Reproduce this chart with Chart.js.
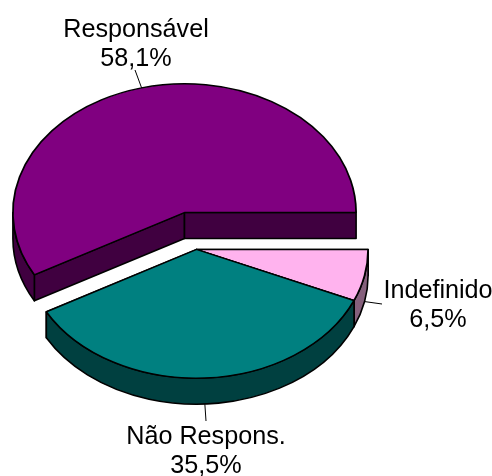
<!DOCTYPE html>
<html>
<head>
<meta charset="utf-8">
<style>
  html, body { margin: 0; padding: 0; background: #fff; }
  canvas { display: block; }
</style>
<script src="https://cdn.jsdelivr.net/npm/chart.js@4/dist/chart.umd.min.js"></script>
</head>
<body>
<canvas id="pie" width="492" height="476"></canvas>
<script>
// Shares drawn clockwise starting from three o'clock
const categories = ['Indefinido', 'Não Respons.', 'Responsável'];
const shares = [6.5, 35.5, 58.1];
const shareLabels = ['6,5%', '35,5%', '58,1%'];
const topColors = ['#FFB3EE', '#008080', '#800080'];
const wallColors = ['#85607C', '#004040', '#400040'];
const pulledOut = [true, true, false];

// Perspective settings for the tilted pie
const tilt = 0.75;
const depth = 26;
const pullX = 12, pullY = 37;
const fontPx = 25.2;
const lineGap = 29;

// Where each label sits: centre x, first baseline, end of the leader line
const labelSpots = [
  { x: 438, y: 298, endX: 382, endY: 304 },
  { x: 206, y: 444, endX: 206, endY: 421 },
  { x: 136, y: 37, endX: 135, endY: 70 }
];

const tiltedPie = {
  id: 'tiltedPie',
  beforeDatasetsDraw(chart) {
    const ctx = chart.ctx;
    const arcs = chart.getDatasetMeta(0).data;
    // Back slice first, then the pulled-out slices in front of it
    [2, 0, 1].forEach(i => {
      const arc = arcs[i];
      const dx = pulledOut[i] ? pullX : 0;
      const dy = pulledOut[i] ? pullY : 0;
      const cx = arc.x + dx, cy = arc.y + dy;
      const rx = arc.outerRadius, ry = rx * tilt;
      const a0 = arc.startAngle, a1 = arc.endAngle;
      const rim = a => [cx + rx * Math.cos(a), cy + ry * Math.sin(a)];

      ctx.save();
      ctx.fillStyle = wallColors[i];
      ctx.strokeStyle = '#000';
      ctx.lineWidth = 1.6;
      ctx.lineJoin = 'round';

      // Cut faces along both straight edges of the slice
      [a0, a1].forEach(a => {
        const [px, py] = rim(a);
        ctx.beginPath();
        ctx.moveTo(cx, cy);
        ctx.lineTo(px, py);
        ctx.lineTo(px, py + depth);
        ctx.lineTo(cx, cy + depth);
        ctx.closePath();
        ctx.fill();
        ctx.stroke();
      });

      // Outer wall, only on the near half of the ellipse
      const from = Math.max(a0, 0), to = Math.min(a1, Math.PI);
      if (to > from) {
        ctx.beginPath();
        ctx.ellipse(cx, cy, rx, ry, 0, from, to);
        ctx.ellipse(cx, cy + depth, rx, ry, 0, to, from, true);
        ctx.closePath();
        ctx.fill();
        ctx.stroke();
      }

      // Top face, squashed around the slice centre
      ctx.translate(cx, cy);
      ctx.scale(1, tilt);
      ctx.translate(-arc.x, -arc.y);
      arc.draw(ctx);
      ctx.restore();
    });
    return false;
  },
  afterDraw(chart) {
    const ctx = chart.ctx;
    const arcs = chart.getDatasetMeta(0).data;
    ctx.save();
    ctx.fillStyle = '#000';
    ctx.textAlign = 'center';
    ctx.textBaseline = 'alphabetic';
    ctx.font = fontPx + 'px "Liberation Sans", Arial, sans-serif';
    arcs.forEach((arc, i) => {
      const spot = labelSpots[i];
      const mid = (arc.startAngle + arc.endAngle) / 2;
      const cx = arc.x + (pulledOut[i] ? pullX : 0);
      const cy = arc.y + (pulledOut[i] ? pullY : 0);
      const sin = Math.sin(mid);
      const startX = cx + arc.outerRadius * Math.cos(mid);
      const startY = cy + arc.outerRadius * tilt * sin + (sin > 0 ? depth : 0);

      ctx.strokeStyle = '#000';
      ctx.lineWidth = 1;
      ctx.beginPath();
      ctx.moveTo(startX, startY);
      ctx.lineTo(spot.endX, spot.endY);
      ctx.stroke();

      ctx.fillText(categories[i], spot.x, spot.y);
      ctx.fillText(shareLabels[i], spot.x, spot.y + lineGap);
    });
    ctx.restore();
  }
};

new Chart(document.getElementById('pie'), {
  type: 'pie',
  data: {
    labels: categories,
    datasets: [{
      data: shares,
      backgroundColor: topColors,
      borderColor: '#000',
      borderWidth: 1.8,
      offset: 0
    }]
  },
  options: {
    responsive: false,
    animation: false,
    rotation: 90,
    layout: { padding: { left: 12, right: 135, top: 40, bottom: 91 } },
    plugins: {
      legend: { display: false },
      tooltip: { enabled: false },
      title: { display: false }
    }
  },
  plugins: [tiltedPie]
});
</script>
</body>
</html>
